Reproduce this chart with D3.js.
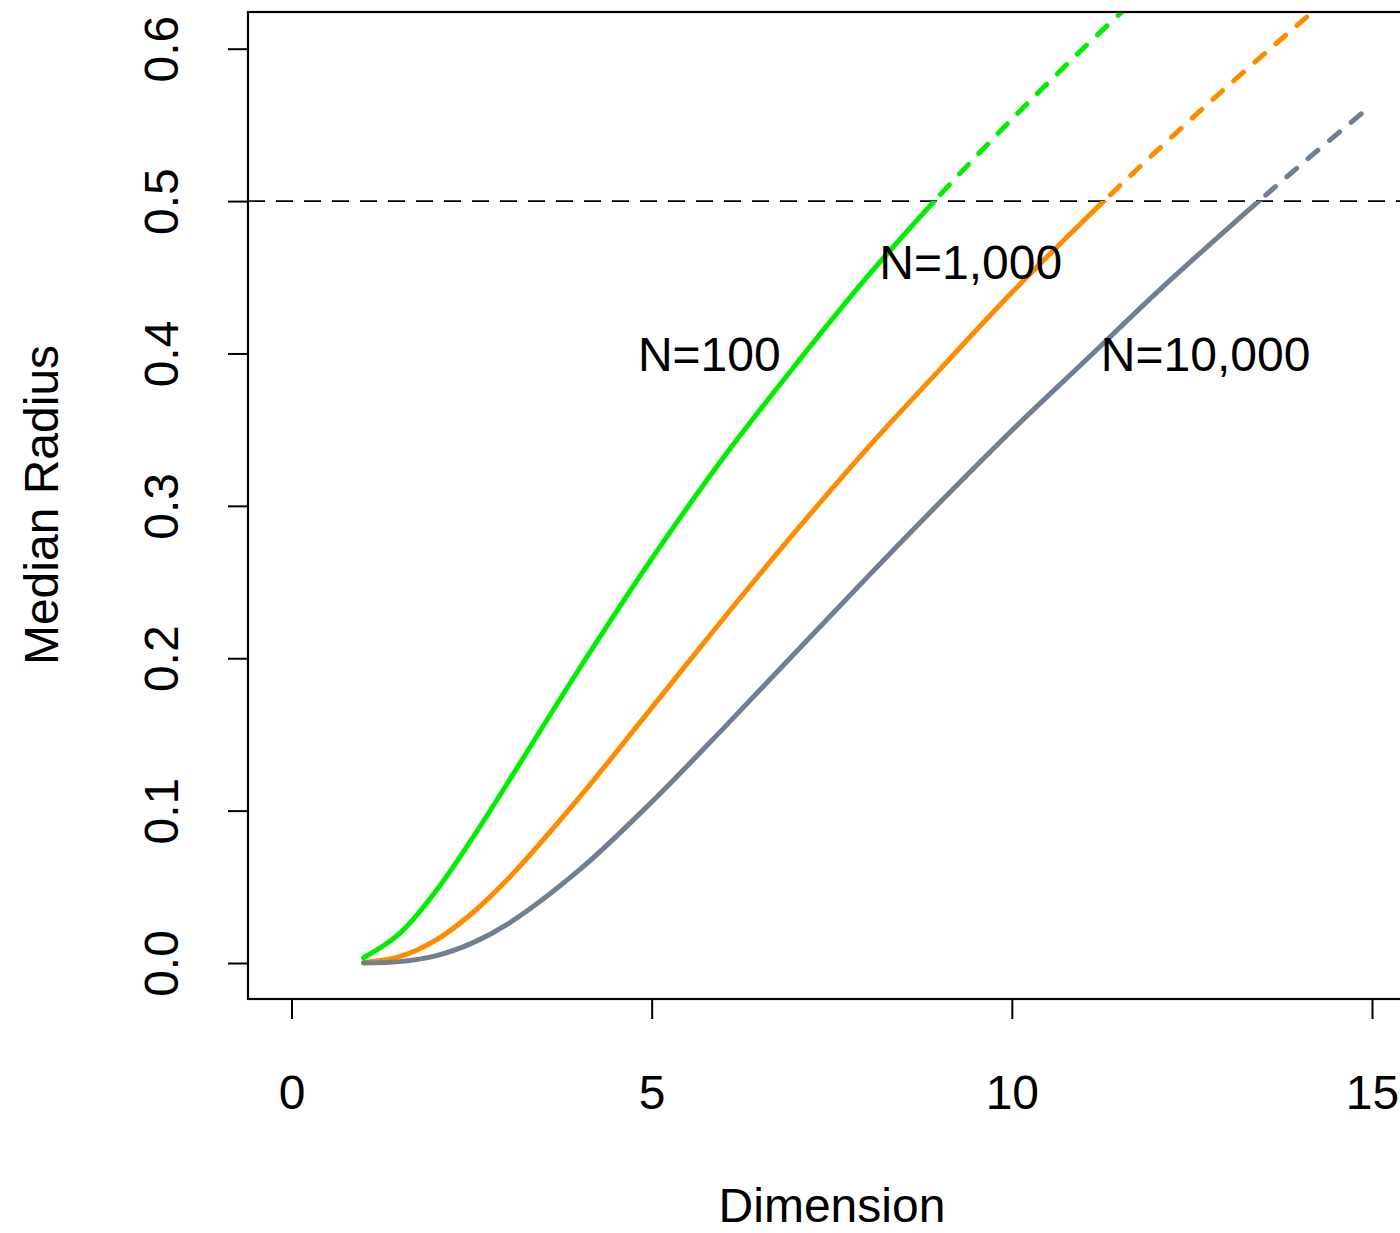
<!DOCTYPE html>
<html><head><meta charset="utf-8">
<script src="https://cdn.jsdelivr.net/npm/d3@7"></script>
<style>body{margin:0;background:#fff}svg{display:block}text{font-family:"Liberation Sans",Arial,Helvetica,sans-serif;fill:#000}</style>
</head><body>
<script>
const dims = [1,1.5,2,2.5,3,4,5,6,7,8,9,10,11,12,13,14,15];
const n100 = [0.003454,0.019346,0.046891,0.081067,0.118144,0.193425,0.265219,0.331897,0.392659,0.450678,0.503887,0.553701,0.600573,0.644882];
const n1000 = [0.000346,0.004176,0.014851,0.032313,0.054895,0.108856,0.167446,0.226236,0.283353,0.338093,0.389401,0.439958,0.487281,0.532426,0.575577,0.616906,0.656573];
const n10000 = [0.0000347,0.000900,0.004697,0.012866,0.025482,0.061219,0.105658,0.154141,0.203934,0.253543,0.302187,0.349482,0.394372,0.439478,0.482158,0.523359,0.563153];
const seriesNames = ["N=100","N=1,000","N=10,000"];
const seriesColors = ["#00ee00","#ff8c00","#708090"];
const xTicks = [0,5,10,15];
const yTicks = [0,0.1,0.2,0.3,0.4,0.5,0.6];
const threshold = 0.5;
const labelPos = [[5.80,0.4],[9.43,0.46],[12.69,0.4]];

const W=1400,H=1233;
const box={l:248,t:12,r:1415,b:999};
const x=d3.scaleLinear().domain([0,15]).range([291.5,1372]);
const y=d3.scaleLinear().domain([0,0.6]).range([963,48.7]);
const svg=d3.select("body").append("svg").attr("width",W).attr("height",H);
const defs=svg.append("defs");
defs.append("clipPath").attr("id","clipBox").append("rect")
  .attr("x",box.l).attr("y",box.t).attr("width",box.r-box.l).attr("height",box.b-box.t);
defs.append("clipPath").attr("id","clipBelow").append("rect")
  .attr("x",box.l).attr("y",y(threshold)).attr("width",box.r-box.l).attr("height",box.b-y(threshold));
defs.append("clipPath").attr("id","clipAbove").append("rect")
  .attr("x",box.l).attr("y",box.t).attr("width",box.r-box.l).attr("height",y(threshold)-box.t);

// threshold line
svg.append("line").attr("x1",box.l).attr("x2",box.r).attr("y1",y(threshold)).attr("y2",y(threshold))
  .attr("stroke","#000").attr("stroke-width",1.6).attr("stroke-dasharray","17,11");

const line=d3.line().x(d=>x(d[0])).y(d=>y(d[1])).curve(d3.curveCatmullRom.alpha(0.5));
const allSeries=[n100,n1000,n10000];
const gBox=svg.append("g").attr("clip-path","url(#clipBox)");
allSeries.forEach((vals,i)=>{
  const pts=vals.map((v,j)=>[dims[j],v]);
  const dStr=line(pts);
  gBox.append("path").attr("d",dStr).attr("fill","none").attr("stroke",seriesColors[i])
    .attr("stroke-width",5).attr("stroke-linecap","round").attr("stroke-linejoin","round")
    .attr("clip-path","url(#clipBelow)");
  const dp=gBox.append("path").attr("d",dStr).attr("fill","none").attr("stroke",seriesColors[i])
    .attr("stroke-width",5).attr("stroke-linecap","round")
    .attr("stroke-dasharray","13,15").attr("clip-path","url(#clipAbove)");
  const node=dp.node(); const L=node.getTotalLength();
  let lo=0,hi=L; const yt=y(threshold);
  for(let k=0;k<40;k++){const m=(lo+hi)/2; if(node.getPointAtLength(m).y>yt) lo=m; else hi=m;}
  dp.attr("stroke-dashoffset",-(lo+9));
});

// box
svg.append("rect").attr("x",box.l).attr("y",box.t).attr("width",box.r-box.l).attr("height",box.b-box.t)
  .attr("fill","none").attr("stroke","#000").attr("stroke-width",2.2);

// x axis ticks
const gx=svg.append("g").attr("transform",`translate(0,${box.b})`)
  .call(d3.axisBottom(x).tickValues(xTicks).tickSize(20).tickPadding(56).tickFormat(d3.format("d")));
gx.select(".domain").remove();
gx.selectAll(".tick line").attr("stroke","#000").attr("stroke-width",2);
gx.selectAll(".tick text").attr("font-size",48).attr("font-family","Liberation Sans, Arial, sans-serif");

// y axis
const gy=svg.append("g").attr("transform",`translate(${box.l},0)`)
  .call(d3.axisLeft(y).tickValues(yTicks).tickSize(20).tickFormat(d3.format(".1f")));
gy.select(".domain").remove();
gy.selectAll(".tick line").attr("stroke","#000").attr("stroke-width",2);
gy.selectAll(".tick text").attr("font-size",48).attr("font-family","Liberation Sans, Arial, sans-serif")
  .attr("transform","rotate(-90)").attr("x",0).attr("y",-70).attr("dy",0).attr("text-anchor","middle");

// labels
seriesNames.forEach((n,i)=>{
  svg.append("text").attr("x",x(labelPos[i][0])).attr("y",y(labelPos[i][1])).attr("dy","0.36em")
    .attr("text-anchor","middle").attr("font-size",48).text(n);
});
// titles
svg.append("text").attr("x",832).attr("y",1222).attr("text-anchor","middle").attr("font-size",48).text("Dimension");
svg.append("text").attr("transform","translate(58,505) rotate(-90)").attr("text-anchor","middle").attr("font-size",48).text("Median Radius");
</script>
</body></html>
